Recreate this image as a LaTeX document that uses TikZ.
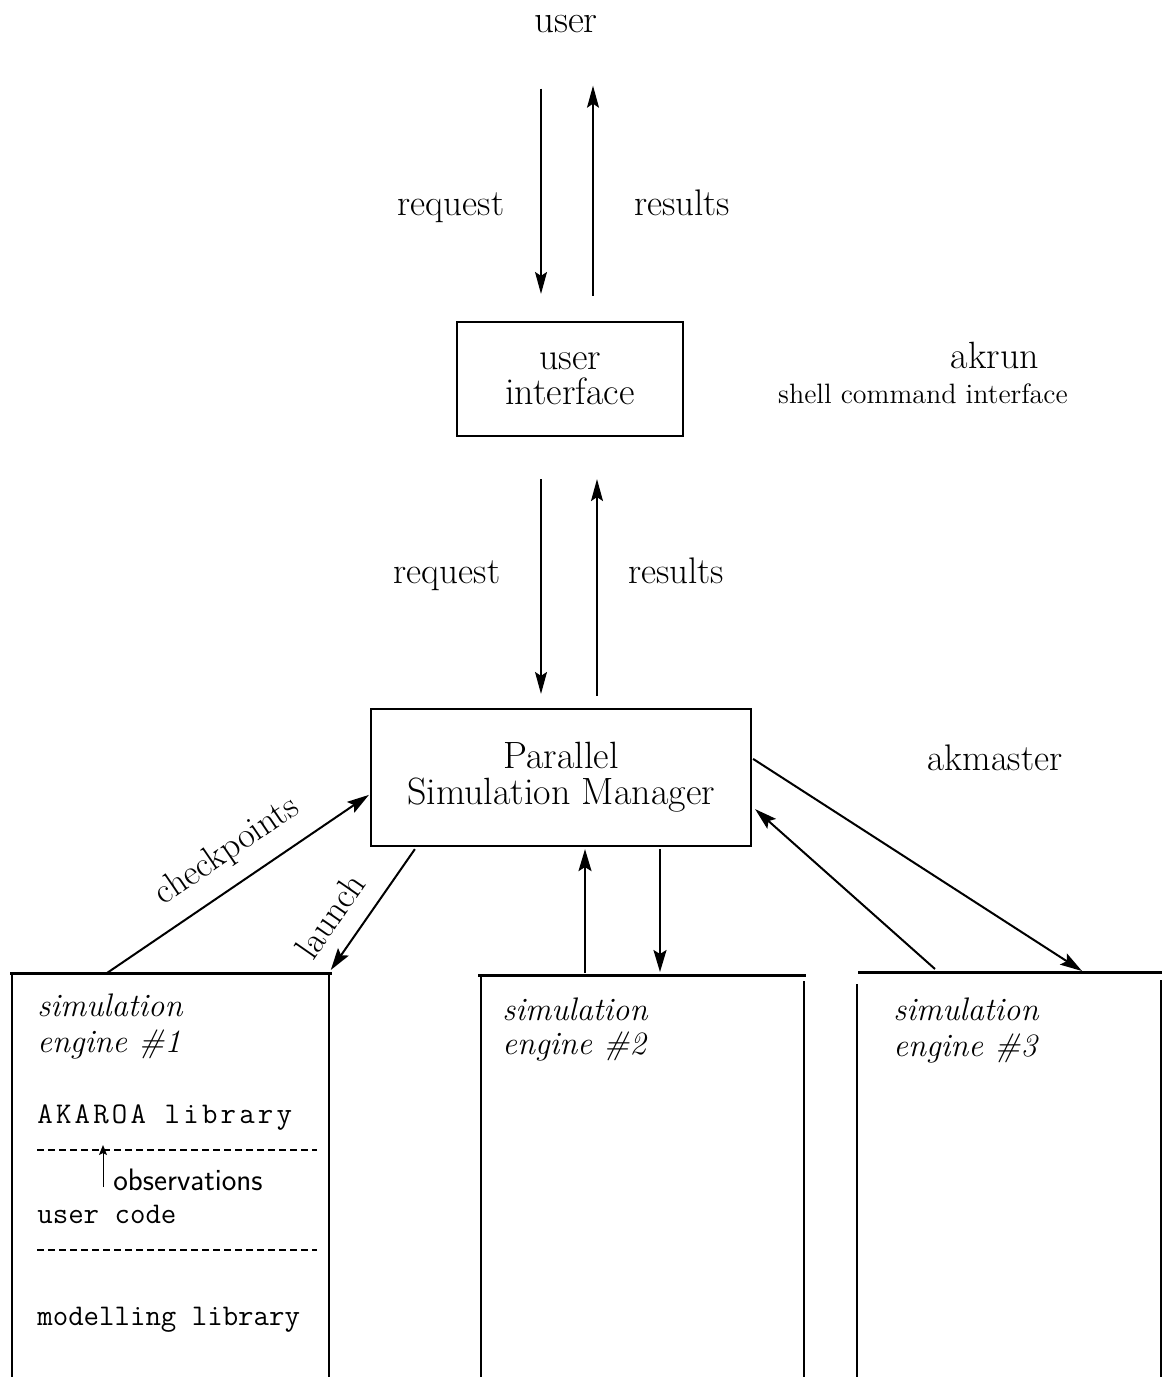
\documentclass[tikz,border=0pt]{standalone}
\usepackage{fontspec}
\usetikzlibrary{arrows.meta,calc}
% small fixed gap between letters for the wide-set library line
\newcommand\lsp{\kern1.6pt}
\begin{document}
\begin{tikzpicture}[x=0.5pt,y=-0.5pt,
  lbl/.style={inner sep=0pt, font=\fontsize{18.5}{22}\selectfont},
  smalllbl/.style={inner sep=0pt, font=\fontsize{14}{17}\selectfont},
  mainbox/.style={draw, line width=1.1pt, inner sep=0pt, align=center},
  englbl/.style={inner sep=0pt, font=\fontsize{16.3}{18}\selectfont\itshape},
  codelbl/.style={inner sep=0pt, font=\fontsize{15}{18}\ttfamily},
  engine/.style={inner sep=0pt, minimum height=212pt, anchor=north west},
  enginetop/.style={line width=1.5pt},
  engineside/.style={line width=0.9pt},
  layerline/.style={line width=0.8pt, dash pattern=on 3.5pt off 2pt},
  conn/.style={line width=1pt, -{Stealth[length=11pt,width=6.5pt,inset=2pt]}},
  rconn/.style={line width=1pt, {Stealth[length=11pt,width=6.5pt,inset=2pt]}-},
  thinconn/.style={line width=0.7pt, -{Stealth[length=11pt,width=6pt,inset=2pt]}},
  obsconn/.style={line width=0.5pt, -{Stealth[length=5pt,width=4pt,inset=1pt]}}
]
\useasboundingbox (0,0) rectangle (1162,1377);
\clip (0,0) rectangle (1162,1377);

% user and the user interface
\node[inner sep=0pt, font=\fontsize{19.5}{22}\selectfont, anchor=base] (user) at (566,32) {user};
\node[lbl, anchor=base] (req1) at (451,215) {request};
\node[lbl, anchor=base] (res1) at (682,215) {results};
\node[mainbox, font=\fontsize{19}{17.5}\selectfont,
      minimum width=113pt, minimum height=57pt] (ui) at (570,379) {user\\interface};
\node[inner sep=0pt, font=\fontsize{19}{21}\selectfont, anchor=base] (akrun) at (995,368) {akrun};
\node[smalllbl, anchor=base] (shell) at (923,403) {shell command interface};

% simulation manager
\node[lbl, anchor=base] (req2) at (447,583) {request};
\node[lbl, anchor=base] (res2) at (676,583) {results};
\node[mainbox, font=\fontsize{19}{18}\selectfont,
      minimum width=190pt, minimum height=68.5pt] (psm) at (561,777.5) {Parallel\\Simulation Manager};
\node[lbl, anchor=base] (akmaster) at (995,770) {akmaster};

% simulation engines (open at the bottom)
\node[engine, minimum width=158pt] (e1) at (12,973) {};
\node[engine, minimum width=161pt] (e2) at (481,975) {};
\node[engine, minimum width=151pt] (e3) at (858,972) {};

\draw[enginetop] ($(e1.north west)+(-2,0)$) -- ($(e1.north east)+(3,0)$);
\draw[engineside] (e1.north west) -- (e1.south west);
\draw[engineside] (e1.north east) -- (e1.south east);
\draw[enginetop] ($(e2.north west)+(-3,0)$) -- ($(e2.north east)+(2,0)$);
\draw[engineside] (e2.north west) -- (e2.south west);
\draw[engineside] ($(e2.north east)+(0,6)$) -- (e2.south east);
\draw[enginetop] (e3.north west) -- ($(e3.north east)+(4,0)$);
\draw[engineside] ($(e3.north west)+(-1,12)$) -- ($(e3.south west)+(-1,0)$);
\draw[engineside] ($(e3.north east)+(0,8)$) -- (e3.south east);

% engine 1 contents
\node[englbl, anchor=base west] (e1a) at (37,1016) {simulation};
\node[englbl, anchor=base west] (e1b) at (37,1052) {engine \#1};
\node[codelbl, anchor=base west] (akaroa) at (37,1123)
  {A\lsp K\lsp A\lsp R\lsp O\lsp A\lsp\ l\lsp i\lsp b\lsp r\lsp a\lsp r\lsp y};
\draw[layerline] ($(e1.north west)+(25,177)$) -- ($(e1.north east)+(-12,177)$);
\node[inner sep=0pt, anchor=base west, font=\fontsize{15.5}{17}\sffamily] (obs) at (113,1190) {observations};
\draw[obsconn] ($(obs.base west)+(-10,-3)$) -- ($(akaroa.base west)+(66,22)$);
\node[codelbl, anchor=base west] (ucode) at (37,1223) {user code};
\draw[layerline] ($(e1.north west)+(25,277)$) -- ($(e1.north east)+(-12,277)$);
\node[codelbl, anchor=base west] (model) at (37,1325) {modelling library};

% engines 2 and 3 titles
\node[englbl, anchor=base west] (e2a) at (502,1020) {simulation};
\node[englbl, anchor=base west] (e2b) at (502,1054) {engine \#2};
\node[englbl, anchor=base west] (e3a) at (893,1020) {simulation};
\node[englbl, anchor=base west] (e3b) at (893,1056) {engine \#3};

% user <-> user interface
\draw[thinconn] ($(user.south)+(-25,56)$) -- ($(ui.north)+(-29,-27)$);
\draw[thinconn] ($(ui.north)+(23,-25)$) -- ($(user.south)+(27,53)$);

% user interface <-> manager
\draw[thinconn] ($(ui.south)+(-29,42)$) -- ($(psm.north)+(-20,-14)$);
\draw[thinconn] ($(psm.north)+(36,-12)$) -- ($(ui.south)+(27,42)$);

% manager <-> engines
\draw[conn] ($(e1.north west)+(95,0)$) --
  node[pos=0.53, sloped, above=8pt, inner sep=0pt, font=\fontsize{18}{21}\selectfont] (chk) {checkpoints}
  ($(psm.north west)+(-1,87)$);
\draw[rconn] ($(e1.north east)+(2,-3)$) --
  node[pos=0.3, sloped, above=9pt, inner sep=0pt, font=\fontsize{18}{21}\selectfont] (lau) {launch}
  ($(psm.south west)+(45,2)$);
\draw[conn] ($(e2.north west)+(104,-2)$) -- ($(psm.south)+(24,2)$);
\draw[conn] ($(psm.south)+(99,2)$) -- ($(e2.north west)+(179,-3)$);
\draw[conn] ($(e3.north west)+(77,-3)$) -- ($(psm.south east)+(3,-38)$);
\draw[conn] ($(psm.north east)+(1,51)$) -- ($(e3.north west)+(224,-1)$);
\end{tikzpicture}
\end{document}
